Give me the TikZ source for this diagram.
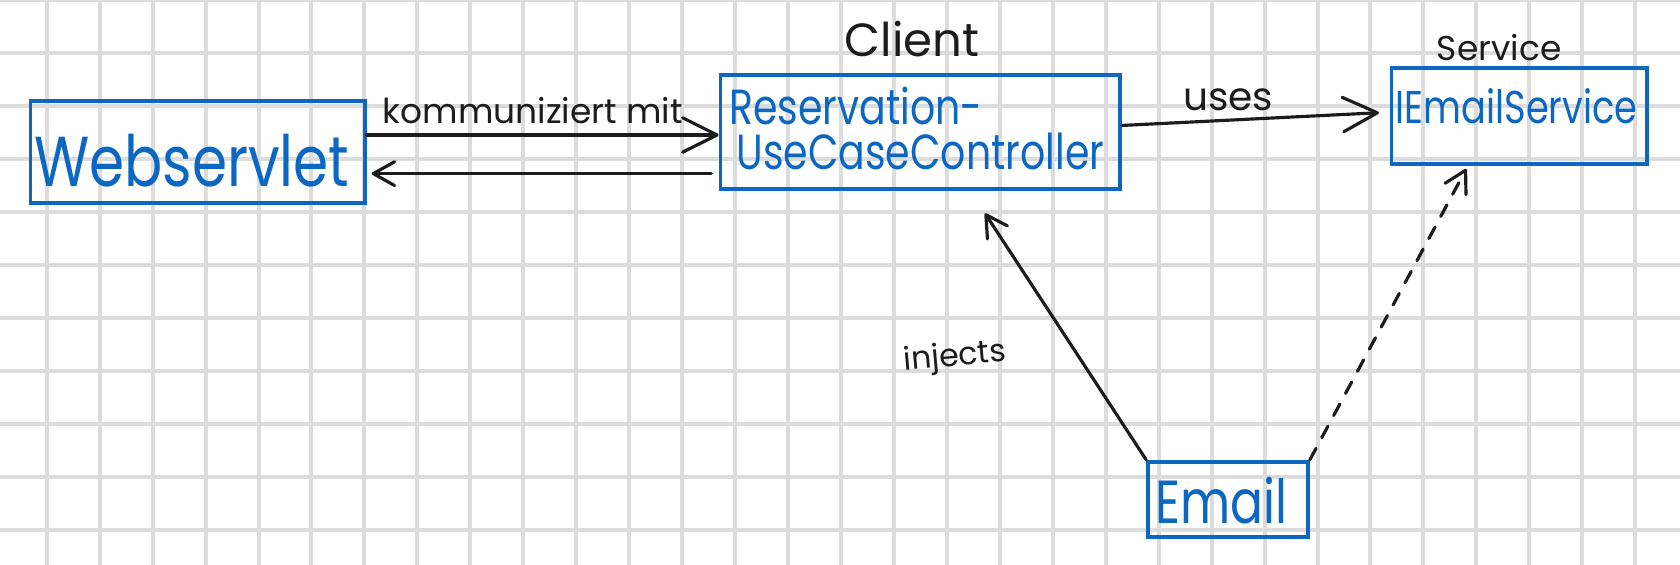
\documentclass[tikz,border=0pt]{standalone}
\usepackage{fontspec}
\setmainfont{Poppins}
\newfontfamily\penfont{Poppins}[FakeStretch=0.8]
\usetikzlibrary{arrows.meta}

\definecolor{penblue}{HTML}{0B67C2}
\definecolor{penblack}{HTML}{1C1C1C}
\definecolor{gridgray}{HTML}{DCDCDC}

\tikzset{
  box/.style={draw=penblue, line width=2pt, inner sep=0pt},
  bluetext/.style={text=penblue, inner sep=0pt},
  note/.style={text=penblack, inner sep=0pt},
  bigarrow/.style={draw=penblack, line width=1.7pt, line cap=round,
    -{Straight Barb[length=6.5mm,width=6.5mm,round]}},
  smallarrow/.style={draw=penblack, line width=1.7pt, line cap=round,
    -{Straight Barb[length=4mm,width=4.5mm,round]}},
  dashline/.style={dash pattern=on 7pt off 6.5pt}
}

\begin{document}
\begin{tikzpicture}
        % Squared paper, one square per unit
        \useasboundingbox (-0.882,-10.661) rectangle (30.846,0.009);
        \fill[white] (-0.882,-10.661) rectangle (30.846,0.009);
        \begin{scope}
          \clip (-0.882,-10.661) rectangle (30.846,0.009);
          \draw[gridgray, line width=2.15pt] (-1,-11) grid (31,1);
        \end{scope}

        % Boxes
        \node[box, minimum width=6.31cm, minimum height=1.93cm] (web) at (2.85,-2.86) {};
        \node[box, minimum width=7.55cm, minimum height=2.15cm] (ctrl) at (16.50,-2.48) {};
        \node[box, minimum width=4.83cm, minimum height=1.81cm] (iemail) at (27.81,-2.18) {};
        \node[box, minimum width=3.02cm, minimum height=1.42cm] (mail) at (22.31,-9.42) {};

        % Names inside the boxes
        \node[bluetext, anchor=base, font=\penfont\fontsize{38pt}{38pt}\selectfont]
          (webname) at ([xshift=-1.1mm,yshift=-6.6mm]web.center) {Webservlet};
        \node[bluetext, anchor=base west, font=\penfont\fontsize{26.5pt}{27pt}\selectfont]
          (ctrlname) at ([xshift=1.9mm,yshift=-9.7mm]ctrl.north west) {Reservation-};
        \node[bluetext, anchor=base west, font=\penfont\fontsize{26.5pt}{27pt}\selectfont]
          (ctrlname2) at ([xshift=3.3mm,yshift=-18.2mm]ctrl.north west) {UseCaseController};
        \node[bluetext, anchor=base, font=\penfont\fontsize{24.7pt}{25pt}\selectfont]
          (iemailname) at ([xshift=-0.5mm,yshift=-1.5mm]iemail.center) {IEmailService};
        \node[bluetext, anchor=base, font=\penfont\fontsize{32.7pt}{33pt}\selectfont]
          (mailname) at ([xshift=-1.2mm,yshift=-4.5mm]mail.center) {Email};

        % Labels above the boxes
        \node[note, anchor=base, font=\fontsize{25pt}{25pt}\selectfont] (client) at (16.34,-1.05) {Client};
        \node[note, anchor=base, font=\fontsize{18.5pt}{19pt}\selectfont] (service) at (27.43,-1.14) {Service};

        % Connectors
        \draw[bigarrow] ([yshift=3.2mm]web.east) -- ([yshift=3.2mm]web.east -| ctrl.west);
        \draw[smallarrow, shorten <=1.4mm, shorten >=1mm] ([yshift=-7.9mm]ctrl.west) -- ([yshift=-7.9mm]ctrl.west -| web.east);
        \draw[bigarrow, shorten >=2mm] ([yshift=1.2mm]ctrl.east) -- ([yshift=0.7mm]iemail.west);
        \draw[smallarrow] (mail.north west) -- ([xshift=12.2mm,yshift=-4.3mm]ctrl.south);
        \draw[smallarrow, dashline] (mail.north east) -- ([xshift=-10mm,yshift=-0.6mm]iemail.south);

        % Connector labels
        \node[note, anchor=base, font=\fontsize{18.5pt}{19pt}\selectfont] (talk) at (9.18,-2.33) {kommuniziert mit};
        \node[note, anchor=base, font=\fontsize{21pt}{21pt}\selectfont] (uses) at (22.31,-2.07) {uses};
        \node[note, rotate=5, font=\fontsize{17pt}{17pt}\selectfont] (injects) at (17.15,-6.75) {injects};
\end{tikzpicture}
\end{document}
